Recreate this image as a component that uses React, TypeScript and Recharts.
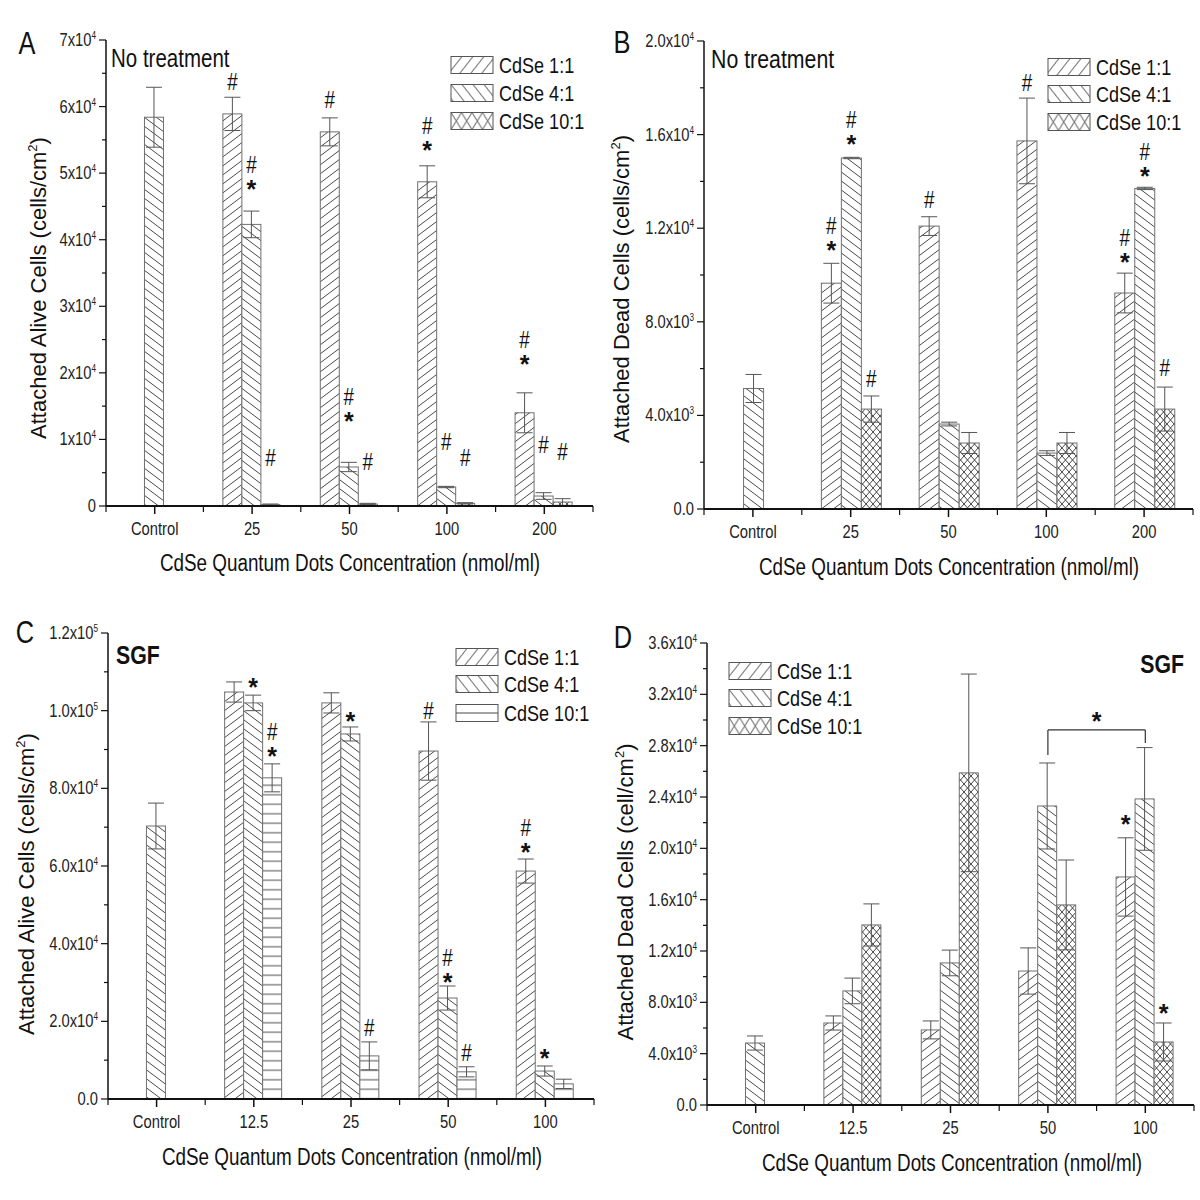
import React from 'react';
import { BarChart, Bar, XAxis, YAxis, ErrorBar, ReferenceLine } from 'recharts';

const REGULAR = '"Liberation Sans", Arial, Helvetica, sans-serif';
const NARROW_SCALE = 0.82;

const seriesNames = ['CdSe 1:1', 'CdSe 4:1', 'CdSe 10:1'];
const xTitle = 'CdSe Quantum Dots Concentration (nmol/ml)';

// ---------- Panel A: attached alive cells, no treatment
const catsA = ['Control', '25', '50', '100', '200'];
const aliveNT11 = [null, 58900, 56200, 48700, 14000];
const aliveNT11Err = [null, 2500, 2100, 2400, 3000];
const aliveNT41 = [58400, 42300, 5860, 2850, 1500];
const aliveNT41Err = [4500, 2000, 700, 100, 500];
const aliveNT101 = [null, 200, 300, 400, 600];
const aliveNT101Err = [null, 100, 100, 100, 500];
const aliveNT11Mark = [null, '#', '#', '#*', '#*'];
const aliveNT11MarkAt = [null, 63700, 61000, 54100, 21900];
const aliveNT41Mark = [null, '#*', '#*', '#', '#'];
const aliveNT41MarkAt = [null, 48200, 13400, 9600, 9200];
const aliveNT101Mark = [null, '#', '#', '#', '#'];
const aliveNT101MarkAt = [null, 7200, 6600, 7200, 8100];
const ticksA = [0, 10000, 20000, 30000, 40000, 50000, 60000, 70000];
const tickLabelsA = ['0', '1x10^4', '2x10^4', '3x10^4', '4x10^4', '5x10^4', '6x10^4', '7x10^4'];

// ---------- Panel B: attached dead cells, no treatment
const catsB = ['Control', '25', '50', '100', '200'];
const deadNT11 = [null, 9650, 12090, 15730, 9230];
const deadNT11Err = [null, 850, 400, 1830, 850];
const deadNT41 = [5150, 15000, 3630, 2390, 13700];
const deadNT41Err = [600, 30, 80, 100, 50];
const deadNT101 = [null, 4270, 2820, 2820, 4270];
const deadNT101Err = [null, 560, 450, 450, 940];
const deadNT11Mark = [null, '#*', '#', '#', '#*'];
const deadNT11MarkAt = [null, 11240, 13200, 18200, 10730];
const deadNT41Mark = [null, '#*', null, null, '#*'];
const deadNT41MarkAt = [null, 15770, null, null, 14400];
const deadNT101Mark = [null, '#', null, null, '#'];
const deadNT101MarkAt = [null, 5560, null, null, 6030];
const ticksB = [0, 4000, 8000, 12000, 16000, 20000];
const tickLabelsB = ['0.0', '4.0x10^3', '8.0x10^3', '1.2x10^4', '1.6x10^4', '2.0x10^4'];

// ---------- Panel C: attached alive cells, SGF
const catsC = ['Control', '12.5', '25', '50', '100'];
const aliveSGF11 = [null, 104800, 102000, 89600, 58700];
const aliveSGF11Err = [null, 2600, 2600, 7500, 3100];
const aliveSGF41 = [70300, 102000, 94000, 26000, 7200];
const aliveSGF41Err = [5900, 2000, 1800, 3100, 1300];
const aliveSGF101 = [null, 82700, 11100, 7000, 3900];
const aliveSGF101Err = [null, 3600, 3600, 1300, 1200];
const aliveSGF11Mark = [null, null, null, '#', '#*'];
const aliveSGF11MarkAt = [null, null, null, 99900, 64600];
const aliveSGF41Mark = [null, '*', '*', '#*', '*'];
const aliveSGF41MarkAt = [null, 107100, 98400, 31200, 11600];
const aliveSGF101Mark = [null, '#*', '#', '#', null];
const aliveSGF101MarkAt = [null, 89400, 18300, 11800, null];
const ticksC = [0, 20000, 40000, 60000, 80000, 100000, 120000];
const tickLabelsC = ['0.0', '2.0x10^4', '4.0x10^4', '6.0x10^4', '8.0x10^4', '1.0x10^5', '1.2x10^5'];

// ---------- Panel D: attached dead cells, SGF
const catsD = ['Control', '12.5', '25', '50', '100'];
const deadSGF11 = [null, 6390, 5850, 10440, 17770];
const deadSGF11Err = [null, 550, 700, 1800, 3050];
const deadSGF41 = [4830, 8890, 11070, 23300, 23850];
const deadSGF41Err = [550, 1000, 1000, 3350, 4000];
const deadSGF101 = [null, 14030, 25880, 15590, 4910];
const deadSGF101Err = [null, 1640, 7700, 3500, 1480];
const deadSGF11Mark = [null, null, null, null, '*'];
const deadSGF11MarkAt = [null, null, null, null, 22200];
const deadSGF41Mark = [null, null, null, null, null];
const deadSGF41MarkAt = [null, null, null, null, null];
const deadSGF101Mark = [null, null, null, null, '*'];
const deadSGF101MarkAt = [null, null, null, null, 7480];
const ticksD = [0, 4000, 8000, 12000, 16000, 20000, 24000, 28000, 32000, 36000];
const tickLabelsD = ['0.0', '4.0x10^3', '8.0x10^3', '1.2x10^4', '1.6x10^4', '2.0x10^4', '2.4x10^4', '2.8x10^4', '3.2x10^4', '3.6x10^4'];
const bracketD = { from: '50', to: '100', at: 29230, leftEnd: 27280, rightEnd: 28210, mark: '*', markAt: 30240 };

const KEYS = ['11', '41', '101'];

function buildRows(cats: string[], vals: any[][], errs: any[][], marks: any[][], markAt: any[][]) {
  return cats.map((c, i) => {
    const row: any = { cat: c };
    KEYS.forEach((k, s) => {
      row['s' + k] = vals[s][i];
      row['e' + k] = errs[s][i];
      row['n' + k] = marks[s][i];
      row['p' + k] = markAt[s][i];
    });
    return row;
  });
}

function supText(str: string, supSize: number, dy: number) {
  const idx = str.indexOf('^');
  if (idx < 0) return str;
  const before = str.slice(0, idx);
  const sup = str.slice(idx + 1, idx + 2);
  const after = str.slice(idx + 2);
  return (
    <>
      {before}
      <tspan dy={-dy} fontSize={supSize}>{sup}</tspan>
      {after ? <tspan dy={dy}>{after}</tspan> : null}
    </>
  );
}

// Narrow text: Liberation Sans compressed horizontally (Arial Narrow look)
function NText(props: any) {
  const { x, y, size, anchor = 'start', bold = false, fill = '#111', children } = props;
  return (
    <text
      transform={`translate(${x},${y}) scale(${NARROW_SCALE},1)`}
      x={0}
      y={0}
      textAnchor={anchor}
      fontSize={size}
      fontWeight={bold ? 'bold' : 'normal'}
      fontFamily={REGULAR}
      fill={fill}
    >
      {children}
    </text>
  );
}

function renderMarks(note: string, cx: number, py: number) {
  const chars = note.split('');
  return chars.map((ch, k) => {
    const level = chars.length - 1 - k;
    const cy = py - level * 20;
    if (ch === '*') {
      return (
        <text key={k} x={cx} y={cy + 13} textAnchor="middle" fontSize={25} fontWeight="bold" fontFamily={REGULAR} fill="#111">*</text>
      );
    }
    return (
      <NText key={k} x={cx} y={cy + 8} size={23} anchor="middle">{ch}</NText>
    );
  });
}

function makeShape(patternId: string, key: string, y0: number, y1: number, yMax: number) {
  return (props: any) => {
    const { x, y, width, height, payload } = props;
    const v = payload ? payload['s' + key] : null;
    if (v == null || !isFinite(x) || !isFinite(y)) return <g />;
    const note = payload['n' + key];
    const pos = payload['p' + key];
    const toY = (val: number) => y1 - (val / yMax) * (y1 - y0);
    return (
      <g>
        <rect x={x} y={y} width={width} height={height} fill="#fff" />
        <rect x={x} y={y} width={width} height={height} fill={`url(#${patternId})`} stroke="#707070" strokeWidth={1} />
        {note ? renderMarks(note, x + width / 2, toY(pos)) : null}
      </g>
    );
  };
}

const YAXIS_W = 60;
const XAXIS_H = 40;

type PanelSpec = {
  letter: string;
  box: { left: number; top: number; w: number; h: number };
  plot: { x0: number; x1: number; y0: number; y1: number };
  cats: string[];
  rows: any[];
  ticks: number[];
  tickLabels: string[];
  yMax: number;
  tenPattern: string;
  tenLegendPattern: string;
  yTitle: string;
  letterPos: [number, number];
  caption: string;
  captionPos: [number, number];
  captionAnchor: 'start' | 'end';
  captionBold: boolean;
  captionSize: number;
  legend: { x: number; rows: number[] };
  yTitlePos: [number, number];
  xTitlePos: [number, number];
  bracket?: typeof bracketD;
};

function Panel({ spec }: { spec: PanelSpec }) {
  const { box, plot, ticks, tickLabels, yMax } = spec;
  const n = spec.cats.length;
  const bw = (plot.x1 - plot.x0) / n;
  const margin = {
    left: plot.x0 - box.left - YAXIS_W,
    right: box.left + box.w - plot.x1,
    top: plot.y0 - box.top,
    bottom: box.top + box.h - plot.y1 - XAXIS_H,
  };
  const ly0 = plot.y0 - box.top;
  const ly1 = plot.y1 - box.top;
  const minor: number[] = [];
  for (let i = 0; i < ticks.length - 1; i++) minor.push((ticks[i] + ticks[i + 1]) / 2);
  const allTicks = [...ticks, ...minor].sort((a, b) => a - b);

  const yTick = (p: any) => {
    const { x, y, payload } = p;
    const idx = ticks.indexOf(payload.value);
    const major = idx >= 0;
    return (
      <g>
        <line x1={x - (major ? 7 : 4)} x2={x} y1={y} y2={y} stroke="#111" strokeWidth={1.2} />
        {major ? (
          <NText x={x - 10} y={y + 6} size={18} anchor="end" fill="#222">
            {supText(tickLabels[idx], 10, 7)}
          </NText>
        ) : null}
      </g>
    );
  };

  const xTick = (p: any) => {
    const { x, y, payload, index } = p;
    return (
      <g>
        <line x1={x} x2={x} y1={y} y2={y + 8} stroke="#111" strokeWidth={1.5} />
        <line x1={x - bw / 2} x2={x - bw / 2} y1={y} y2={y + 6} stroke="#111" strokeWidth={1.2} />
        {index === n - 1 ? <line x1={x + bw / 2} x2={x + bw / 2} y1={y} y2={y + 6} stroke="#111" strokeWidth={1.2} /> : null}
        <NText x={x} y={y + 29} size={18} anchor="middle" fill="#222">{payload.value}</NText>
      </g>
    );
  };

  const patterns = ['p-fwd', 'p-back', spec.tenPattern];
  const legendPatterns = ['l-fwd', 'l-back', spec.tenLegendPattern];
  const toLocalY = (val: number) => ly1 - (val / yMax) * (ly1 - ly0);
  const ox = box.left;
  const oy = box.top;
  const br = spec.bracket;

  return (
    <div style={{ position: 'absolute', left: box.left, top: box.top, width: box.w, height: box.h }}>
      <BarChart
        width={box.w}
        height={box.h}
        data={spec.rows}
        margin={margin}
        barCategoryGap="20%"
        barGap={0}
      >
        <XAxis
          dataKey="cat"
          interval={0}
          height={XAXIS_H}
          tickSize={0}
          tickMargin={0}
          tickLine={false}
          axisLine={{ stroke: '#111', strokeWidth: 2.2 }}
          tick={xTick}
        />
        <XAxis xAxisId="top" orientation="top" dataKey="cat" height={0} tick={false} tickLine={false} axisLine={{ stroke: '#111', strokeWidth: 2 }} />
        <YAxis
          type="number"
          domain={[0, yMax]}
          ticks={allTicks}
          interval={0}
          width={YAXIS_W}
          tickSize={0}
          tickMargin={0}
          tickLine={false}
          axisLine={{ stroke: '#111', strokeWidth: 1.5 }}
          tick={yTick}
          allowDataOverflow
        />
        <YAxis yAxisId="right" orientation="right" width={0} tick={false} tickLine={false} axisLine={{ stroke: '#111', strokeWidth: 2 }} />
        {KEYS.map((k, s) => (
          <Bar key={k} dataKey={'s' + k} isAnimationActive={false} shape={makeShape(patterns[s], k, ly0, ly1, yMax)}>
            <ErrorBar dataKey={'e' + k} width={8} stroke="#555" strokeWidth={1} direction="y" />
          </Bar>
        ))}
        {br ? (
          <ReferenceLine
            segment={[{ x: br.from, y: br.at }, { x: br.to, y: br.at }]}
            stroke="#333"
            strokeWidth={1.2}
            ifOverflow="visible"
            label={(lp: any) => {
              const vb = lp.viewBox || {};
              return (
                <text x={(vb.x || 0) + (vb.width || 0) / 2} y={toLocalY(br.markAt) + 13} textAnchor="middle" fontSize={25} fontWeight="bold" fontFamily={REGULAR} fill="#111">{br.mark}</text>
              );
            }}
          />
        ) : null}
        {br ? <ReferenceLine segment={[{ x: br.from, y: br.at }, { x: br.from, y: br.leftEnd }]} stroke="#333" strokeWidth={1.2} ifOverflow="visible" /> : null}
        {br ? <ReferenceLine segment={[{ x: br.to, y: br.at }, { x: br.to, y: br.rightEnd }]} stroke="#333" strokeWidth={1.2} ifOverflow="visible" /> : null}
      </BarChart>
      <svg width={box.w} height={box.h} style={{ position: 'absolute', left: 0, top: 0, pointerEvents: 'none' }}>
        <NText x={spec.letterPos[0] - ox} y={spec.letterPos[1] - oy + 11} size={31} anchor="middle">{spec.letter}</NText>
        <NText
          x={spec.captionPos[0] - ox}
          y={spec.captionPos[1] - oy + 9}
          anchor={spec.captionAnchor}
          size={spec.captionSize}
          bold={spec.captionBold}
        >
          {spec.caption}
        </NText>
        {seriesNames.map((name, s) => {
          const cy = spec.legend.rows[s] - oy;
          const sx = spec.legend.x - ox;
          return (
            <g key={name}>
              <g transform={`translate(${sx},${cy - 8.5})`}>
                <rect x={0} y={0} width={42} height={17} fill="#fff" />
                <rect x={0} y={0} width={42} height={17} fill={`url(#${legendPatterns[s]})`} stroke="#555" strokeWidth={1} />
              </g>
              <NText x={sx + 48} y={cy + 8} size={22}>{name}</NText>
            </g>
          );
        })}
        <text
          transform={`translate(${spec.yTitlePos[0] - ox},${spec.yTitlePos[1] - oy}) rotate(-90)`}
          x={0}
          y={8}
          textAnchor="middle"
          fontSize={22}
          fontFamily={REGULAR}
          fill="#111"
        >
          {supText(spec.yTitle, 13, 9)}
        </text>
        <NText x={spec.xTitlePos[0] - ox} y={spec.xTitlePos[1] - oy + 8} size={23} anchor="middle">
          {xTitle}
        </NText>
      </svg>
    </div>
  );
}

const rowsA = buildRows(catsA, [aliveNT11, aliveNT41, aliveNT101], [aliveNT11Err, aliveNT41Err, aliveNT101Err], [aliveNT11Mark, aliveNT41Mark, aliveNT101Mark], [aliveNT11MarkAt, aliveNT41MarkAt, aliveNT101MarkAt]);
const rowsB = buildRows(catsB, [deadNT11, deadNT41, deadNT101], [deadNT11Err, deadNT41Err, deadNT101Err], [deadNT11Mark, deadNT41Mark, deadNT101Mark], [deadNT11MarkAt, deadNT41MarkAt, deadNT101MarkAt]);
const rowsC = buildRows(catsC, [aliveSGF11, aliveSGF41, aliveSGF101], [aliveSGF11Err, aliveSGF41Err, aliveSGF101Err], [aliveSGF11Mark, aliveSGF41Mark, aliveSGF101Mark], [aliveSGF11MarkAt, aliveSGF41MarkAt, aliveSGF101MarkAt]);
const rowsD = buildRows(catsD, [deadSGF11, deadSGF41, deadSGF101], [deadSGF11Err, deadSGF41Err, deadSGF101Err], [deadSGF11Mark, deadSGF41Mark, deadSGF101Mark], [deadSGF11MarkAt, deadSGF41MarkAt, deadSGF101MarkAt]);

const specs: PanelSpec[] = [
  {
    letter: 'A', box: { left: 0, top: 0, w: 600, h: 600 }, plot: { x0: 106, x1: 593, y0: 40, y1: 506 },
    cats: catsA, rows: rowsA, ticks: ticksA, tickLabels: tickLabelsA, yMax: 70000,
    tenPattern: 'p-cross', tenLegendPattern: 'l-cross', yTitle: 'Attached Alive Cells (cells/cm^2)',
    letterPos: [27, 43], caption: 'No treatment', captionPos: [111, 58], captionAnchor: 'start', captionBold: false, captionSize: 25,
    legend: { x: 451, rows: [65, 93, 121] }, yTitlePos: [38, 288], xTitlePos: [350, 563],
  },
  {
    letter: 'B', box: { left: 600, top: 0, w: 600, h: 600 }, plot: { x0: 704, x1: 1193, y0: 41, y1: 509 },
    cats: catsB, rows: rowsB, ticks: ticksB, tickLabels: tickLabelsB, yMax: 20000,
    tenPattern: 'p-cross', tenLegendPattern: 'l-cross', yTitle: 'Attached Dead Cells (cells/cm^2)',
    letterPos: [622, 42], caption: 'No treatment', captionPos: [711, 59], captionAnchor: 'start', captionBold: false, captionSize: 26,
    legend: { x: 1048, rows: [67, 94, 122] }, yTitlePos: [621, 289], xTitlePos: [949, 567],
  },
  {
    letter: 'C', box: { left: 0, top: 600, w: 600, h: 600 }, plot: { x0: 108, x1: 594, y0: 633, y1: 1099 },
    cats: catsC, rows: rowsC, ticks: ticksC, tickLabels: tickLabelsC, yMax: 120000,
    tenPattern: 'p-horiz', tenLegendPattern: 'l-horiz', yTitle: 'Attached Alive Cells (cells/cm^2)',
    letterPos: [25, 632], caption: 'SGF', captionPos: [116, 655], captionAnchor: 'start', captionBold: true, captionSize: 26,
    legend: { x: 456, rows: [657, 684, 713] }, yTitlePos: [26, 884], xTitlePos: [352, 1157],
  },
  {
    letter: 'D', box: { left: 600, top: 600, w: 600, h: 600 }, plot: { x0: 707, x1: 1194, y0: 643, y1: 1105 },
    cats: catsD, rows: rowsD, ticks: ticksD, tickLabels: tickLabelsD, yMax: 36000,
    tenPattern: 'p-cross', tenLegendPattern: 'l-cross', yTitle: 'Attached Dead Cells (cell/cm^2)',
    letterPos: [623, 637], caption: 'SGF', captionPos: [1184, 664], captionAnchor: 'end', captionBold: true, captionSize: 26,
    legend: { x: 729, rows: [671, 698, 726] }, yTitlePos: [625, 892], xTitlePos: [952, 1163],
    bracket: bracketD,
  },
];

function PatternDefs() {
  const st = { stroke: '#333', strokeWidth: 0.9, fill: 'none' } as any;
  return (
    <svg width={0} height={0} style={{ position: 'absolute', left: 0, top: 0 }}>
      <defs>
        <pattern id="p-fwd" patternUnits="userSpaceOnUse" width={12} height={9}>
          <path d="M0,9 L12,0 M-3,2.25 L3,-2.25 M9,11.25 L15,6.75" {...st} />
        </pattern>
        <pattern id="p-back" patternUnits="userSpaceOnUse" width={12} height={9}>
          <path d="M0,0 L12,9 M9,-2.25 L15,2.25 M-3,6.75 L3,11.25" {...st} />
        </pattern>
        <pattern id="p-cross" patternUnits="userSpaceOnUse" width={7} height={8}>
          <path d="M0,0 L7,8 M7,0 L0,8 M-1,6.857 L1,9.143 M6,-1.143 L8,1.143 M8,6.857 L6,9.143 M1,-1.143 L-1,1.143" {...st} />
        </pattern>
        <pattern id="p-horiz" patternUnits="userSpaceOnUse" width={10} height={9.5}>
          <path d="M0,4.75 L10,4.75" {...st} />
        </pattern>
        <pattern id="l-fwd" patternUnits="userSpaceOnUse" width={11} height={14}>
          <path d="M0,14 L11,0 M-2,2.545 L2,-2.545 M9,16.545 L13,11.455" {...st} />
        </pattern>
        <pattern id="l-back" patternUnits="userSpaceOnUse" width={11} height={14}>
          <path d="M0,0 L11,14 M9,-2.545 L13,2.545 M-2,11.455 L2,16.545" {...st} />
        </pattern>
        <pattern id="l-cross" patternUnits="userSpaceOnUse" width={10.5} height={17}>
          <path d="M0,0 L10.5,17 M10.5,0 L0,17" {...st} />
        </pattern>
        <pattern id="l-horiz" patternUnits="userSpaceOnUse" width={10} height={17}>
          <path d="M0,8.5 L10,8.5" {...st} />
        </pattern>
      </defs>
    </svg>
  );
}

export default function App() {
  return (
    <div style={{ position: 'absolute', left: 0, top: 0, width: 1200, height: 1200, background: '#fff', overflow: 'hidden' }}>
      <PatternDefs />
      {specs.map((s) => (
        <Panel key={s.letter} spec={s} />
      ))}
    </div>
  );
}
